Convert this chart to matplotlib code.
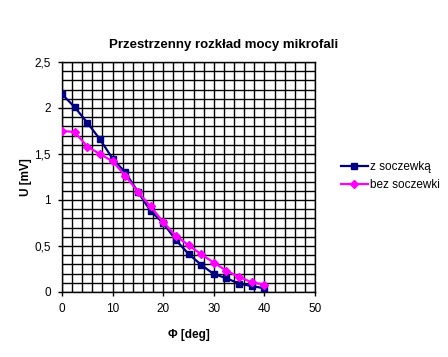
import matplotlib
matplotlib.use("Agg")
import matplotlib.pyplot as plt
import numpy as np

plt.rcParams['font.family'] = ['Liberation Sans', 'DejaVu Sans']

# data
phi = [0, 2.5, 5, 7.5, 10, 12.5, 15, 17.5, 20, 22.5, 25, 27.5, 30, 32.5, 35, 37.5, 40]
u_z = [2.15, 2.01, 1.84, 1.66, 1.45, 1.30, 1.09, 0.88, 0.75, 0.565, 0.415, 0.295,
       0.195, 0.15, 0.09, 0.065, 0.04]
u_bez = [1.75, 1.74, 1.58, 1.50, 1.42, 1.265, 1.09, 0.93, 0.76, 0.61, 0.51, 0.41,
         0.32, 0.23, 0.165, 0.105, 0.08]

x_ticks = [0, 10, 20, 30, 40, 50]
y_ticks = [0, 0.5, 1, 1.5, 2, 2.5]
y_labels = ["0", "0,5", "1", "1,5", "2", "2,5"]

fig = plt.figure(figsize=(4.48, 3.57), dpi=100)
fig.patch.set_facecolor('white')
ax = fig.add_axes([62/448, 65/357, 253/448, 230/357])

# grid
for gx in np.arange(0, 50.01, 2):
    ax.axvline(gx, color='black', lw=1.0, zorder=1)
for gy in np.arange(0, 2.501, 0.1):
    ax.axhline(gy, color='black', lw=1.0, zorder=1)

ax.plot(phi, u_z, color='#000080', lw=1.6, marker='s', ms=5,
        label='z soczewką', zorder=3)
ax.plot(phi, u_bez, color='#ff00ff', lw=1.6, marker='D', ms=3.8,
        label='bez soczewki', zorder=3)

ax.set_xlim(0, 50)
ax.set_ylim(0, 2.5)
ax.set_xticks(x_ticks)
ax.set_yticks(y_ticks)
ax.set_yticklabels(y_labels)
ax.tick_params(labelsize=8.5, length=3, width=1, direction='out', pad=5)
for s in ax.spines.values():
    s.set_color('black')
    s.set_linewidth(1)

ax.set_xlabel('Φ [deg]', fontsize=8.5, fontweight='bold', labelpad=10)
ax.set_ylabel('U [mV]', fontsize=8.5, fontweight='bold', labelpad=2)
fig.text(0.5, 1 - 45/357, 'Przestrzenny rozkład mocy mikrofali', ha='center',
         va='center', fontsize=9.5, fontweight='bold')

fig.legend(loc='center left', bbox_to_anchor=(330/448, 1 - 176/357),
           frameon=False, fontsize=8.5, handlelength=2.3, handletextpad=0.2,
           labelspacing=0.5)

fig.savefig('out.png', dpi=100)
